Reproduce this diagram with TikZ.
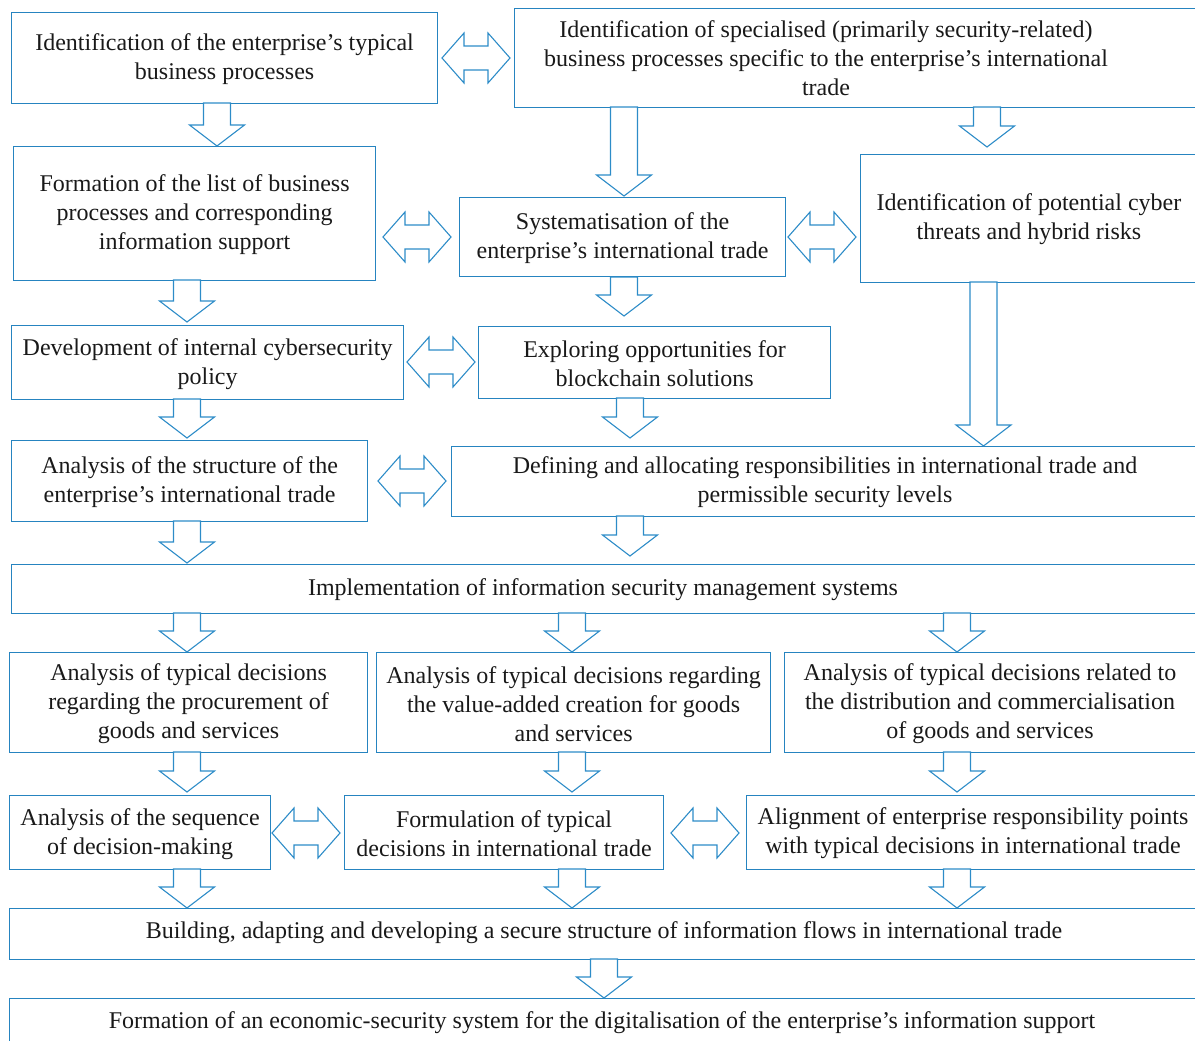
\documentclass[tikz,border=0pt]{standalone}
\usepackage{fontspec}
\setmainfont{Liberation Serif}
\definecolor{bblue}{RGB}{38,132,192}
\definecolor{ablue}{RGB}{45,140,200}
\newcommand\darr[3]{\draw[arr] (#1-13.5,#2) -- (#1+13.5,#2) -- (#1+13.5,#3-21) -- (#1+27.5,#3-21) -- (#1,#3) -- (#1-27.5,#3-21) -- (#1-13.5,#3-21) -- cycle;}
\newcommand\harr[2]{\draw[arr] (#1-34,#2) -- (#1-12,#2-25) -- (#1-12,#2-12) -- (#1+12,#2-12) -- (#1+12,#2-25) -- (#1+34,#2) -- (#1+12,#2+25) -- (#1+12,#2+12) -- (#1-12,#2+12) -- (#1-12,#2+25) -- cycle;}
\begin{document}
\begin{tikzpicture}[x=1pt,y=-1pt,
  box/.style={draw=bblue, line width=1.2pt, anchor=north west, inner sep=0pt},
  txt/.style={font=\fontsize{24}{29}\selectfont, align=center, text=black!90},
  tx/.style={txt, yshift=-1.5pt},
  arr/.style={draw=ablue, line width=1.1pt, line join=miter, fill=white}]
\useasboundingbox (0,0) rectangle (1195,1041);
\clip (0,0) rectangle (1195,1041);
% row 1
\node[box, minimum width=426pt, minimum height=91pt] (A) at (11,12) {};
\node[tx] (At) at (A.center) {Identification of the enterprise’s typical\\business processes};
\node[box, minimum width=700pt, minimum height=99pt] (B) at (514,8) {};
\node[tx] (Bt) at (826,57) {Identification of specialised (primarily security-related)\\business processes specific to the enterprise’s international\\trade};
% row 2
\node[box, minimum width=362pt, minimum height=134pt] (C) at (13,146) {};
\node[tx] (Ct) at (C.center) {Formation of the list of business\\processes and corresponding\\information support};
\node[box, minimum width=326pt, minimum height=79pt] (D) at (459,197) {};
\node[tx] (Dt) at (D.center) {Systematisation of the\\enterprise’s international trade};
\node[box, minimum width=360pt, minimum height=128pt] (E) at (860,154) {};
\node[tx] (Et) at (1029,218) {Identification of potential cyber\\threats and hybrid risks};
% row 3
\node[box, minimum width=392pt, minimum height=74pt] (F) at (11,325) {};
\node[tx] (Ft) at (F.center) {Development of internal cybersecurity\\policy};
\node[box, minimum width=352pt, minimum height=72pt] (G) at (478,326) {};
\node[tx] (Gt) at (G.center) {Exploring opportunities for\\blockchain solutions};
% row 4
\node[box, minimum width=356pt, minimum height=81pt] (H) at (11,440) {};
\node[tx] (Ht) at (H.center) {Analysis of the structure of the\\enterprise’s international trade};
\node[box, minimum width=760pt, minimum height=70pt] (I) at (451,446) {};
\node[tx] (It) at (825,481) {Defining and allocating responsibilities in international trade and\\permissible security levels};
% row 5
\node[box, minimum width=1200pt, minimum height=49pt] (J) at (11,564) {};
\node[tx] (Jt) at (603,588) {Implementation of information security management systems};
% row 6
\node[box, minimum width=358pt, minimum height=100pt] (K) at (9,652) {};
\node[tx] (Kt) at (K.center) {Analysis of typical decisions\\regarding the procurement of\\goods and services};
\node[box, minimum width=394pt, minimum height=100pt] (L) at (376,652) {};
\node[tx] (Lt) at (L.center) {Analysis of typical decisions regarding\\the value-added creation for goods\\and services};
\node[box, minimum width=420pt, minimum height=100pt] (M) at (784,652) {};
\node[tx] (Mt) at (990,702) {Analysis of typical decisions related to\\the distribution and commercialisation\\of goods and services};
% row 7
\node[box, minimum width=261pt, minimum height=74pt] (N) at (9,795) {};
\node[tx] (Nt) at (N.center) {Analysis of the sequence\\of decision-making};
\node[box, minimum width=319pt, minimum height=74pt] (O) at (344,795) {};
\node[tx] (Ot) at (O.center) {Formulation of typical\\decisions in international trade};
\node[box, minimum width=460pt, minimum height=74pt] (P) at (746,795) {};
\node[tx] (Pt) at (973,832) {Alignment of enterprise responsibility points\\with typical decisions in international trade};
% row 8
\node[box, minimum width=1200pt, minimum height=51pt] (Q) at (9,908) {};
\node[tx] (Qt) at (604,931) {Building, adapting and developing a secure structure of information flows in international trade};
\node[box, minimum width=1200pt, minimum height=60pt] (R) at (9,998) {};
\node[tx] (Rt) at (602,1021) {Formation of an economic-security system for the digitalisation of the enterprise’s information support};
% double arrows
\harr{476}{58}
\harr{417}{237}
\harr{822}{237}
\harr{441}{362}
\harr{412}{481}
\harr{306}{833}
\harr{705}{833}
% down arrows
\darr{217}{103}{146}
\darr{624}{107}{196}
\darr{987}{107}{147}
\darr{187}{280}{322}
\darr{624}{277}{316}
\darr{983.5}{282}{446}
\darr{187}{399}{438}
\darr{630}{398}{438}
\darr{187}{521}{563}
\darr{630}{516}{556}
\darr{187}{613}{652}
\darr{572}{613}{652}
\darr{957}{613}{652}
\darr{187}{752}{792}
\darr{572}{752}{792}
\darr{957}{752}{792}
\darr{187}{869}{908}
\darr{572}{869}{908}
\darr{957}{869}{908}
\darr{604}{959}{998}
\end{tikzpicture}
\end{document}
